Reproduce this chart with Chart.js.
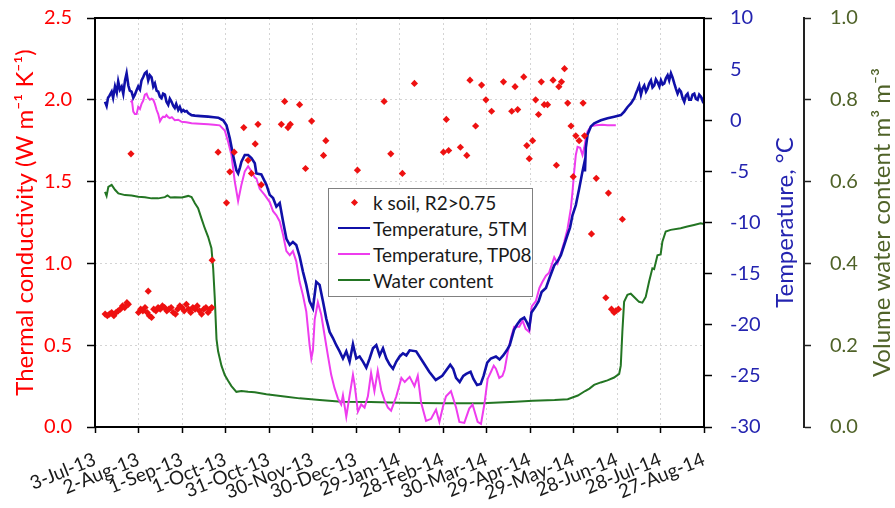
<!DOCTYPE html>
<html>
<head>
<meta charset="utf-8">
<script src="https://cdn.jsdelivr.net/npm/chart.js@4"></script>
<style>
  body { margin: 0; background: #fff; }
  #wrap { position: relative; width: 895px; height: 508px; }
  #legend {
    position: absolute; left: 328px; top: 188px; width: 205px; height: 109px;
    box-sizing: border-box; border: 1px solid #808080; background: #fff;
    font: 19px Lato, sans-serif; color: #1a1a1a;
  }
  #legend .item { height: 26px; display: flex; align-items: center; white-space: nowrap; }
  #legend .key { width: 32px; margin: 0 3px 0 9px; display: flex; justify-content: center; align-items: center; }
  #legend .ln { width: 32px; height: 2.5px; }
  #legend .pt { width: 5px; height: 5px; transform: rotate(45deg); }
</style>
</head>
<body>
<div id="wrap">
  <canvas id="chart" width="895" height="508"></canvas>
  <div id="legend"></div>
</div>
<script>
// x values are days counted from 3-Jul-13
const dateTicks = ["3-Jul-13", "2-Aug-13", "1-Sep-13", "1-Oct-13", "31-Oct-13", "30-Nov-13",
  "30-Dec-13", "29-Jan-14", "28-Feb-14", "30-Mar-14", "29-Apr-14", "29-May-14",
  "28-Jun-14", "28-Jul-14", "27-Aug-14"];

const seriesNames = ["k soil, R2>0.75", "Temperature, 5TM", "Temperature, TP08", "Water content"];

// thermal conductivity, W m-1 K-1
const kDays = [7, 8.5, 10, 11.5, 13, 14.5, 16, 17.5, 19, 20.5, 22, 23,
  24.8,
  30, 31.5, 33, 34.5, 36, 36.7, 37.5, 39, 40.5, 42, 43.5, 45, 46.5, 48, 49.5, 51, 52.5, 54,
  55.5, 57, 58.5, 60, 61.5, 63, 64.5, 66, 67.5, 69, 70.5, 72, 73.5, 75, 76.5, 78, 79.5, 80.5,
  80.8, 84.9, 90.7, 93, 96, 102.6, 105.6, 107.9, 110.5, 112.4, 114.7,
  128.5, 130.8, 133.1, 134.7, 141.1, 145.2, 149.4, 157.6, 159.2, 181, 199.4, 204, 212,
  220.3, 240.3, 242.3, 243.9, 252, 256.4, 258.6, 262.5, 266.6, 269.6, 273.5, 281.7, 287.4,
  289.7, 291.5, 295.7, 297.8, 299.5, 301.8, 303.9, 305.9, 307.8, 309.8, 312.1, 315.9, 318.2,
  319.9, 321.7, 323.8, 326, 328.3, 329.8, 331.6, 333.9, 336.6, 337.6, 342.4, 345.7, 354.1,
  363.7, 352.3, 356.2, 358, 359.2, 361];
const kValues = [0.69, 0.68, 0.69, 0.70, 0.68, 0.70, 0.71, 0.72, 0.74, 0.73, 0.76, 0.75,
  1.67,
  0.70, 0.72, 0.71, 0.73, 0.70, 0.83, 0.68, 0.67, 0.72, 0.71, 0.73, 0.72, 0.74, 0.73, 0.71, 0.72, 0.73, 0.70,
  0.69, 0.72, 0.74, 0.73, 0.71, 0.75, 0.72, 0.70, 0.73, 0.72, 0.74, 0.71, 0.69, 0.72, 0.73, 0.70, 0.72, 0.73,
  1.02, 1.68, 1.37, 1.56, 1.68, 1.83, 1.63, 1.55, 1.73, 1.85, 1.48,
  1.85, 1.99, 1.83, 1.85, 1.97, 1.58, 1.87, 1.66, 1.75, 1.57, 1.99, 1.67, 1.55,
  2.10, 1.68, 1.88, 1.69, 1.71, 1.66, 2.12, 1.84, 2.09, 2.00, 1.93, 2.11, 1.93,
  2.08, 1.94, 2.14, 1.72, 1.64, 1.75, 2.00, 1.91, 2.11, 1.97, 1.97, 2.12, 1.60,
  2.08, 2.11, 2.19, 1.98, 1.84, 1.53, 1.78, 1.75, 1.98, 1.78, 1.18, 1.52, 1.43,
  1.27, 0.79, 0.72, 0.70, 0.71, 0.72];

// [day, °C]
const temp5TM = [[6.9, 1.8], [8, 1.4], [9, 2.2], [10, 2.4], [11.5, 2.8], [12.5, 2.2], [13.8, 3.3],
  [15, 2.7], [16, 3.8], [17.2, 3.0], [18.4, 3.3], [19.5, 2.6], [20.7, 3.9], [21.8, 4.6], [23, 3.4],
  [24, 2.9], [25.2, 2.8], [26.4, 2.2], [27.5, 2.5], [28.6, 2.9], [29.8, 3.3], [31, 3.0], [32.1, 3.9],
  [33.2, 4.2], [34.4, 4.6], [35.6, 4.75], [36.7, 3.9], [37.8, 4.4], [39, 4.2], [40.2, 3.3], [41.3, 3.6],
  [42.5, 2.9], [43.6, 2.8], [44.8, 2.3], [45.9, 2.15], [47, 2.6], [48.2, 2.5], [49.3, 1.8], [50.5, 1.5],
  [51.6, 2.1], [52.8, 1.8], [54, 1.4], [55, 1.2], [56, 1.6], [57.4, 1.0], [58.5, 1.3], [59.7, 0.85],
  [61, 1.0], [62, 0.85], [63.2, 0.9], [64.3, 0.7], [66.6, 0.5], [68.9, 0.45], [73, 0.4], [78, 0.35],
  [82, 0.3], [85, 0.25], [87, 0.1], [88.4, 0.0], [90.7, -0.5], [93, -1.8], [95.2, -3.4], [97.5, -4.9],
  [98.7, -5.2], [100, -4.6], [101, -4.05], [103.3, -3.4], [105.6, -3.4], [107.9, -3.7], [110.2, -4.2],
  [111.3, -5.2], [114.7, -5.3], [118.2, -6.3], [120.5, -7.3], [122.8, -7.6], [125.1, -8.45], [127.4, -8.1],
  [129.7, -9.9], [132, -11.6], [134.3, -12.2], [136.5, -11.9], [138.8, -12.2], [141.1, -13.3], [143.4, -14.8],
  [145.7, -16.1], [148, -17.7], [150.3, -18.4], [152.6, -15.8], [154.9, -16.1], [157.2, -17.7], [159.5, -19.4],
  [161.8, -20.7], [164.1, -21.3], [166.4, -22.0], [168.7, -22.6], [171, -23.3], [173.3, -22.6], [175.6, -23.6],
  [177.9, -21.9], [180.2, -23.3], [182.5, -23.1], [184.8, -23.6], [187.1, -24.2], [189.4, -23.3], [191.7, -22.3],
  [194, -22.0], [196.3, -23.0], [198.6, -22.3], [200.9, -23.3], [203.2, -23.9], [205.5, -24.3], [207.8, -23.6],
  [210.1, -23.1], [212.4, -22.8], [214.7, -23.0], [217, -22.5], [221.5, -22.6], [226, -23.6], [230.5, -24.6],
  [235, -25.4], [239.5, -25.0], [242, -24.5], [245, -23.9], [247, -24.3], [249, -25.2], [251.5, -25.6],
  [254, -25.0], [256, -24.8], [259, -24.6], [261, -25.3], [263.5, -25.9], [266, -25.8], [268, -25.0],
  [270.5, -23.7], [273, -23.3], [276.5, -23.1], [279, -23.4], [281.5, -23.0], [284, -22.5], [286, -22.0],
  [289, -20.5], [291, -20.0], [293.5, -19.5], [296, -19.3], [298, -19.8], [299.5, -20.3], [301, -18.8],
  [303.5, -18.3], [306, -17.7], [308, -16.8], [311, -16.4], [313.5, -15.4], [316.7, -14.2], [319, -13.8],
  [321.3, -13.2], [323.6, -12.2], [325.9, -11.2], [327.6, -10.5], [329.3, -9.3], [331.6, -8.3], [333.9, -6.7],
  [336.2, -5.0], [337.4, -4.2], [337.9, -5.0], [338.5, -2.7], [339.7, -1.4], [342, -0.6], [344.3, -0.3],
  [348.9, 0.0], [353.5, 0.2], [358.1, 0.35], [362.7, 0.5], [365, 0.85], [367.3, 1.3], [369.6, 1.65],
  [371.9, 2.15], [373, 2.6], [374.2, 3.0], [375.3, 3.4], [376.5, 2.5], [377.6, 3.1], [378.8, 3.4], [380, 2.8],
  [381.1, 3.1], [382.2, 3.6], [383.4, 3.9], [384.5, 3.2], [385.7, 3.4], [386.8, 4.0], [388, 3.7], [389.2, 3.3],
  [390.3, 3.9], [391.5, 3.5], [392.6, 3.6], [393.7, 4.1], [394.9, 4.4], [396, 3.9], [397.2, 4.6], [398.3, 4.2],
  [399.5, 3.6], [400.6, 3.1], [401.8, 2.6], [403, 3.0], [404.1, 2.8], [405.2, 2.2], [406.4, 1.8], [407.5, 2.4],
  [408.7, 2.6], [409.8, 2.0], [411, 2.0], [412.1, 2.5], [413.3, 2.6], [414.4, 2.1], [415.6, 2.0], [416.7, 2.5],
  [417.9, 2.3], [419, 1.9], [420, 2.2]];

const tempTP08 = [[24.6, 1.75], [25.5, 1.9], [26.4, 0.85], [27.5, 0.6], [28.7, 0.6], [29.8, 1.3], [31, 1.1],
  [32.1, 1.6], [33.2, 1.9], [34.4, 2.5], [35.6, 2.6], [36.7, 2.2], [37.9, 2.0], [39, 2.1], [40.2, 2.0],
  [41.3, 1.6], [42.5, 1.0], [43.6, 0.6], [44.8, -0.1], [46, 0.2], [47, 0.35], [48.2, 0.3], [49.3, 0.5],
  [50.5, 0.3], [51.6, 0.2], [53, 0.3], [55, 0.0], [57.4, 0.05], [59.7, -0.15], [63, -0.2], [66.6, -0.3],
  [72, -0.35], [78, -0.4], [82, -0.45], [86, -0.5], [89.5, -1.0], [91.8, -2.1], [94.1, -3.4], [96.4, -6.0],
  [98.7, -7.9], [101, -6.3], [103.3, -5.0], [105.6, -4.5], [107.9, -5.0], [110.2, -5.6], [111.3, -5.7],
  [113.6, -6.7], [117, -7.3], [120.5, -8.0], [122.8, -8.9], [125.1, -9.3], [127.4, -9.9], [129.7, -11.2],
  [132, -12.8], [134.3, -13.2], [136.5, -12.8], [138.8, -13.8], [141.1, -15.8], [143.4, -17.1], [145.7, -18.7],
  [148, -22.0], [149.2, -23.3], [150.3, -22.5], [151.5, -19.5], [153.7, -17.8], [156, -19.0], [158.3, -21.0],
  [160.6, -23.0], [162.9, -24.9], [165.2, -26.2], [167.5, -27.2], [169.8, -27.8], [171, -26.9], [173.3, -29.0],
  [175.6, -26.9], [177.9, -24.9], [179, -25.8], [181.3, -28.5], [183.6, -27.8], [185.9, -28.1], [188.2, -27.0],
  [190.4, -24.7], [192.7, -26.5], [195, -24.5], [197.4, -26.4], [199.7, -27.4], [202, -28.1], [204.2, -28.4],
  [207.8, -27.0], [211.3, -25.2], [213.6, -25.6], [217, -25.1], [220.3, -26.0], [222.6, -25.0], [224.9, -27.6],
  [228.3, -29.4], [231.8, -29.2], [235.2, -28.3], [237.5, -29.5], [240, -28.0], [242.1, -27.0], [245.5, -26.5],
  [249, -28.1], [251.3, -29.5], [254.7, -29.6], [258.1, -28.2], [260.4, -27.8], [263.9, -29.5], [266.2, -29.7],
  [268.5, -27.8], [270.8, -25.3], [273.1, -24.6], [275, -24.0], [276.5, -24.3], [278.8, -25.2], [281, -25.0],
  [282.5, -24.4], [284.5, -22.8], [287, -21.2], [289.1, -20.2], [291, -20.2], [292.6, -20.2], [294.9, -19.6],
  [297, -20.4], [299.5, -20.7], [301.2, -18.2], [304, -17.7], [306.5, -16.4], [308.6, -15.8], [311, -15.2],
  [313.2, -14.9], [316.7, -13.4], [319, -14.0], [321.3, -13.0], [323.6, -11.9], [325.9, -10.6], [328.2, -8.6],
  [329.3, -7.0], [330.5, -5.0], [331.6, -3.4], [332.8, -2.6], [334.6, -2.7], [336.2, -3.4], [337.4, -2.7],
  [338.5, -1.8], [339.7, -1.1], [342, -0.6], [345.4, -0.5], [350, -0.45], [353.4, -0.5], [359.2, -0.5]];

// [day, m3 m-3]
const waterContent = [[6.9, 0.575], [8, 0.565], [9.2, 0.587], [11.5, 0.592], [13.8, 0.58], [16.1, 0.571],
  [20.7, 0.567], [25.2, 0.566], [29.8, 0.563], [34.4, 0.562], [39, 0.559], [43.6, 0.559], [48.2, 0.562],
  [50, 0.566], [52, 0.561], [55, 0.562], [60, 0.561], [64.3, 0.565], [66.6, 0.562], [68.9, 0.547],
  [71.1, 0.535], [73.4, 0.51], [75.7, 0.486], [78, 0.465], [80.3, 0.437], [81.5, 0.388], [82.6, 0.315],
  [83.8, 0.215], [84.9, 0.185], [87.2, 0.15], [89.5, 0.127], [91.8, 0.113], [94.1, 0.1], [97.5, 0.086],
  [101, 0.088], [105.6, 0.086], [110.2, 0.085], [118.2, 0.08], [132, 0.074], [141.1, 0.07], [155, 0.066],
  [170, 0.062], [190, 0.061], [210, 0.059], [240, 0.058], [267, 0.058], [290, 0.062], [302, 0.064],
  [317, 0.066], [326, 0.068], [333, 0.077], [338, 0.088], [341, 0.094], [344.2, 0.103], [348.8, 0.109],
  [353.4, 0.114], [358, 0.121], [361.5, 0.13], [362.6, 0.15], [363.7, 0.233], [364.9, 0.306], [367.2, 0.323],
  [369.5, 0.326], [371.8, 0.318], [375.2, 0.306], [377.5, 0.304], [379.8, 0.318], [382.1, 0.355],
  [384.4, 0.388], [385.6, 0.386], [387.9, 0.42], [390.1, 0.422], [391.3, 0.453], [393.6, 0.478], [397, 0.482],
  [403.9, 0.486], [408.5, 0.49], [413.1, 0.494], [417.7, 0.498], [420, 0.496]];

const RED = "#ff0000";
const BLUE_TEXT = "#2424b0";
const OLIVE = "#4f6228";

function toPoints(pairs) {
  return pairs.map(([x, y]) => ({ x: x, y: y }));
}

// fixed axis width; drop the label overhang so the plot top sits where the layout padding says
function fixWidth(w) {
  return (scale) => {
    scale.width = w;
    scale.paddingTop = 0;
    scale.paddingBottom = 0;
  };
}

Chart.defaults.font.family = "Lato, sans-serif";

// right-hand axis titles read bottom-to-top, plus the black frame round the plot
const axisDecor = {
  id: "axisDecor",
  afterDraw(chart) {
    const { ctx, chartArea, scales } = chart;
    ctx.save();
    ctx.strokeStyle = "#000";
    ctx.lineWidth = 2;
    ctx.strokeRect(chartArea.left, chartArea.top, chartArea.width, chartArea.height);

    const midY = (chartArea.top + chartArea.bottom) / 2;
    const titles = [
      { x: scales.yT.right - 19, text: "Temperature, °C", color: BLUE_TEXT },
      { x: scales.yW.right - 13, text: "Volume water content m³ m⁻³", color: OLIVE },
    ];
    ctx.font = "24px Lato, sans-serif";
    ctx.textAlign = "center";
    ctx.textBaseline = "middle";
    titles.forEach((t) => {
      ctx.save();
      ctx.translate(t.x, midY);
      ctx.rotate(-Math.PI / 2);
      ctx.fillStyle = t.color;
      ctx.fillText(t.text, 0, 0);
      ctx.restore();
    });
    ctx.restore();
  },
};

const htmlLegend = {
  id: "htmlLegend",
  afterUpdate(chart) {
    const box = document.getElementById("legend");
    box.innerHTML = "";
    chart.data.datasets.forEach((ds) => {
      const row = document.createElement("div");
      row.className = "item";
      const key = document.createElement("span");
      key.className = "key";
      const mark = document.createElement("span");
      if (ds.type === "scatter") {
        mark.className = "pt";
        mark.style.background = ds.backgroundColor;
      } else {
        mark.className = "ln";
        mark.style.background = ds.borderColor;
      }
      key.appendChild(mark);
      const label = document.createElement("span");
      label.textContent = ds.label;
      row.appendChild(key);
      row.appendChild(label);
      box.appendChild(row);
    });
  },
};

const ctx = document.getElementById("chart").getContext("2d");

const chart = new Chart(ctx, {
  data: {
    datasets: [
      {
        type: "scatter",
        label: seriesNames[0],
        data: kDays.map((d, i) => ({ x: d, y: kValues[i] })),
        yAxisID: "yK",
        pointStyle: "rectRot",
        pointRadius: 3.6,
        backgroundColor: "#ee1111",
        borderColor: "#ee1111",
        borderWidth: 0,
      },
      {
        type: "line",
        label: seriesNames[1],
        data: toPoints(temp5TM),
        yAxisID: "yT",
        borderColor: "#1010a8",
        borderWidth: 2.6,
        pointRadius: 0,
        tension: 0,
      },
      {
        type: "line",
        label: seriesNames[2],
        data: toPoints(tempTP08),
        yAxisID: "yT",
        borderColor: "#ee3cee",
        borderWidth: 2,
        pointRadius: 0,
        tension: 0,
      },
      {
        type: "line",
        label: seriesNames[3],
        data: toPoints(waterContent),
        yAxisID: "yW",
        borderColor: "#237523",
        borderWidth: 2,
        pointRadius: 0,
        tension: 0,
      },
    ],
  },
  options: {
    responsive: false,
    animation: false,
    layout: { padding: { top: 18, left: 0, right: 0, bottom: 0 } },
    plugins: {
      legend: { display: false },
      tooltip: { enabled: false },
    },
    scales: {
      x: {
        type: "linear",
        position: "bottom",
        min: 0,
        max: 420,
        afterFit: (scale) => { scale.height = 81; },
        ticks: {
          stepSize: 30,
          autoSkip: false,
          minRotation: 22,
          maxRotation: 22,
          padding: 15,
          color: "#1a1a1a",
          font: { size: 19 },
          callback: (value) => dateTicks[Math.round(value / 30)],
        },
        grid: {
          color: "#d4d4d4",
          lineWidth: 1,
          tickLength: 6,
          tickColor: "#000",
          tickWidth: 1.5,
        },
        border: { display: false, dash: [2, 3] },
      },
      yK: {
        type: "linear",
        position: "left",
        min: 0,
        max: 2.5,
        afterFit: fixWidth(95),
        ticks: {
          stepSize: 0.5,
          padding: 15,
          color: RED,
          font: { size: 20 },
          callback: (value) => value.toFixed(1),
        },
        grid: {
          color: "#d4d4d4",
          lineWidth: 1,
          tickLength: 8,
          tickColor: "#000",
          tickWidth: 1.5,
        },
        border: { display: false, dash: [2, 3] },
        title: {
          display: true,
          text: "Thermal conductivity (W m⁻¹ K⁻¹)",
          color: RED,
          font: { size: 24 },
          padding: { top: 11, bottom: 0 },
        },
      },
      yT: {
        type: "linear",
        position: "right",
        min: -30,
        max: 10,
        afterFit: fixWidth(100),
        ticks: {
          stepSize: 5,
          padding: 18,
          color: BLUE_TEXT,
          font: { size: 20 },
        },
        grid: {
          drawOnChartArea: false,
          tickLength: 8,
          tickColor: "#000",
          tickWidth: 1.5,
        },
        border: { display: false },
      },
      yW: {
        type: "linear",
        position: "right",
        min: 0,
        max: 1,
        afterFit: fixWidth(91),
        ticks: {
          stepSize: 0.2,
          padding: 19,
          color: OLIVE,
          font: { size: 20 },
          callback: (value) => value.toFixed(1),
        },
        grid: {
          drawOnChartArea: false,
          tickLength: 7,
          tickColor: "#222",
          tickWidth: 1.5,
        },
        border: { display: true, color: "#222", width: 2 },
      },
    },
  },
  plugins: [axisDecor, htmlLegend],
});
</script>
</body>
</html>
